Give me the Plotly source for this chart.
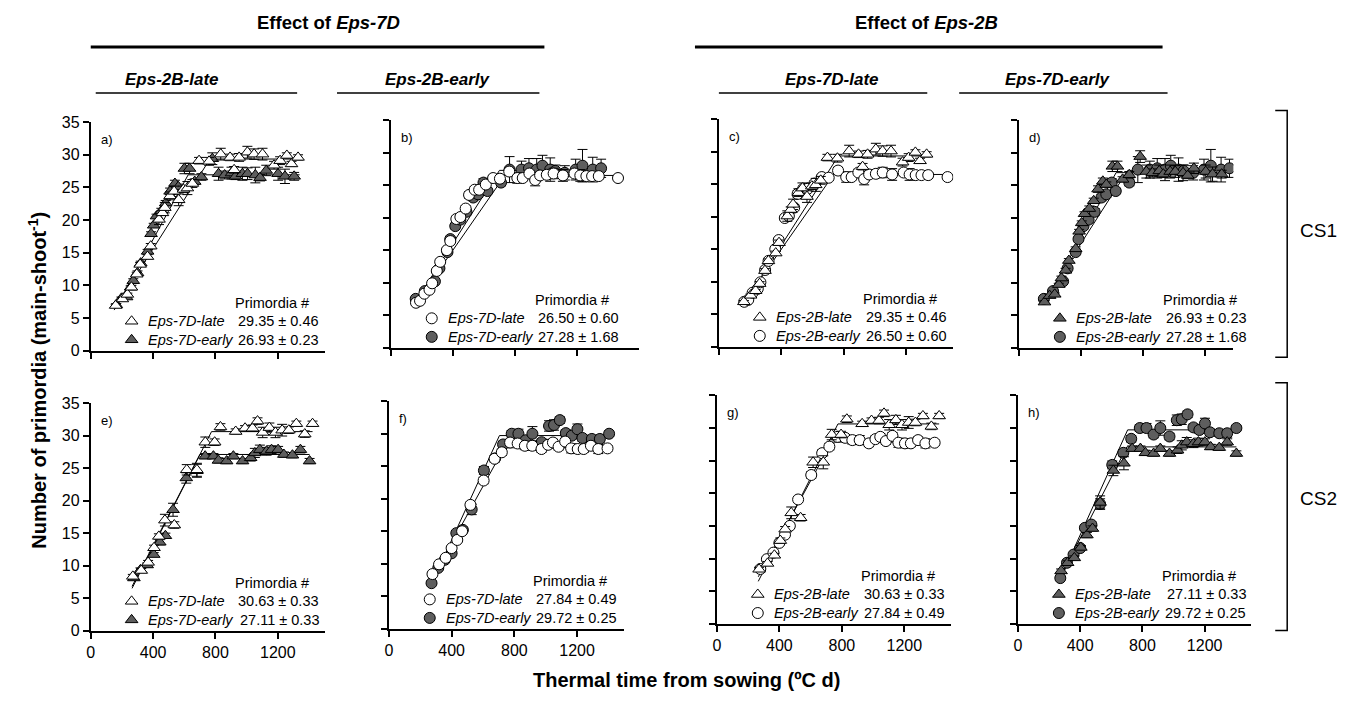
import plotly.graph_objects as go

W, H = 1355, 704
FONT = "Liberation Sans, Arial, sans-serif"
GRAY = "#5e5e5e"

# ---------------- DATA ----------------
# Genotypes: LL = Eps-2B-late/Eps-7D-late (open triangle), LE = Eps-2B-late/Eps-7D-early (filled triangle)
#            EL = Eps-2B-early/Eps-7D-late (open circle),  EE = Eps-2B-early/Eps-7D-early (filled circle)
# ---- CS1 ----
cs1_LL_x = [160, 203, 235, 261, 295, 317, 364, 385, 438, 460, 475, 509, 535, 564, 595, 620, 652, 695, 759, 834,
            894, 920, 952, 1005, 1048, 1102, 1176, 1215, 1258, 1288, 1330]
cs1_LL_y = [6.9, 7.9, 8.6, 9.7, 11.7, 13.2, 14.4, 16.0, 20.1, 21.1, 21.9, 23.7, 24.4, 23.1, 24.7, 24.9, 25.6, 29.1,
            29.0, 30.1, 29.6, 27.7, 29.6, 30.4, 30.1, 30.1, 28.4, 29.1, 29.9, 28.6, 29.6]
cs1_LL_e = [0.2, 0.2, 0.2, 0.3, 0.3, 0.3, 0.3, 0.4, 0.8, 0.4, 0.8, 0.6, 0.8, 0.9, 0.5, 1.0, 0.6, 0.5, 0.6, 0.9,
            0.5, 0.5, 0.6, 0.9, 0.8, 0.9, 0.6, 0.6, 0.4, 0.4, 0.4]

cs1_LE_x = [164, 197, 230, 256, 273, 300, 321, 365, 387, 404, 422, 453, 481, 509, 540, 562, 601, 634, 667, 710,
            780, 820, 859, 903, 929, 973, 1006, 1056, 1086, 1126, 1202, 1246, 1305]
cs1_LE_y = [7.0, 8.0, 8.2, 9.7, 10.7, 11.9, 13.4, 15.2, 17.9, 19.2, 20.6, 21.4, 22.6, 24.4, 25.6, 25.1, 27.9, 27.9,
            25.9, 26.6, 29.4, 27.1, 26.9, 27.2, 26.7, 27.1, 27.1, 26.9, 26.5, 27.6, 27.1, 26.7, 26.7]
cs1_LE_e = [0.2, 0.2, 0.2, 0.2, 0.3, 0.3, 0.3, 0.3, 0.3, 0.3, 0.3, 0.4, 0.4, 0.5, 0.5, 0.4, 0.8, 0.8, 0.4, 0.5,
            0.9, 1.0, 0.6, 0.9, 0.5, 1.0, 0.9, 1.2, 0.5, 0.8, 1.0, 1.1, 0.6]

cs1_EL_x = [162, 188, 216, 249, 266, 296, 318, 361, 383, 422, 448, 482, 504, 540, 569, 612, 659, 703, 763, 815,
            850, 893, 930, 962, 1005, 1049, 1109, 1183, 1221, 1260, 1297, 1340, 1464]
cs1_EL_y = [6.9, 7.2, 8.3, 8.9, 9.9, 11.8, 13.2, 15.0, 16.4, 19.8, 20.1, 21.4, 23.5, 24.3, 24.3, 25.1, 26.1, 26.0,
            27.1, 26.1, 26.1, 26.8, 25.8, 26.5, 26.6, 26.8, 26.5, 26.8, 26.5, 26.4, 26.4, 26.4, 26.1]
cs1_EL_e = [0.2, 0.2, 0.2, 0.2, 0.2, 0.3, 0.3, 0.3, 0.3, 0.4, 0.4, 0.4, 0.5, 0.4, 0.4, 0.4, 0.4, 0.4, 0.5, 0.8,
            0.4, 0.5, 0.9, 0.5, 0.6, 0.8, 0.9, 0.5, 0.9, 0.5, 0.4, 0.4, 0.3]

cs1_EE_x = [160, 219, 284, 313, 365, 383, 415, 448, 487, 531, 562, 597, 623, 710, 765, 842, 890, 940, 977, 1027,
            1060, 1121, 1191, 1235, 1301, 1355]
cs1_EE_y = [7.5, 8.7, 10.2, 12.2, 14.7, 16.7, 18.7, 19.7, 20.9, 23.1, 23.6, 25.4, 24.1, 25.4, 27.4, 27.4, 27.6,
            27.4, 28.0, 27.4, 27.2, 26.9, 27.4, 28.0, 27.4, 27.6]
cs1_EE_e = [0.2, 0.2, 0.3, 0.3, 0.3, 0.3, 0.4, 0.4, 0.5, 0.5, 0.5, 0.6, 0.4, 0.5, 2.0, 1.3, 1.5, 1.7, 1.6, 1.8,
            0.9, 1.1, 1.6, 2.5, 1.9, 1.4]

# ---- CS2 ----
cs2_LL_x = [270, 324, 368, 406, 437, 476, 536, 616, 681, 735, 795, 832, 930, 990, 1038, 1070, 1103, 1146, 1185,
            1228, 1271, 1319, 1373, 1423]
cs2_LL_y = [8.35, 9.25, 10.5, 12.75, 14.5, 17.0, 16.25, 24.75, 24.75, 29.0, 29.0, 31.35, 30.65, 31.15, 31.15,
            32.25, 30.5, 31.25, 30.5, 30.85, 30.85, 31.85, 30.25, 31.85]
cs2_LL_e = [0.3, 0.3, 0.3, 0.4, 0.4, 0.9, 0.5, 0.8, 1.0, 0.8, 0.5, 0.5, 0.4, 0.4, 0.5, 0.5, 0.8, 0.7, 0.8, 0.9,
            0.5, 0.4, 0.5, 0.4]

cs2_LE_x = [277, 319, 362, 404, 443, 479, 528, 613, 681, 734, 787, 819, 872, 915, 974, 1026, 1053, 1085, 1128,
            1160, 1202, 1239, 1294, 1345, 1404]
cs2_LE_y = [8.1, 9.35, 10.1, 11.7, 13.6, 14.6, 18.6, 23.5, 24.6, 26.85, 26.85, 26.2, 26.1, 26.85, 26.1, 26.6,
            27.35, 27.85, 27.6, 27.85, 27.85, 27.1, 27.0, 27.85, 26.1]
cs2_LE_e = [0.3, 0.3, 0.3, 0.3, 0.4, 0.4, 1.0, 0.8, 1.0, 0.4, 0.4, 0.4, 0.4, 0.4, 0.4, 0.5, 0.7, 0.7, 0.6, 0.6,
            0.5, 0.4, 0.4, 0.5, 0.4]

cs2_EL_x = [278, 320, 362, 400, 436, 467, 520, 604, 674, 720, 773, 821, 867, 914, 973, 1015, 1046, 1082, 1124,
            1162, 1204, 1242, 1288, 1335, 1394]
cs2_EL_y = [8.4, 9.9, 10.9, 12.4, 13.65, 15.0, 19.05, 22.8, 26.15, 27.15, 28.65, 28.5, 28.15, 28.15, 27.65, 28.3,
            28.65, 28.0, 28.8, 27.75, 27.65, 27.65, 28.15, 27.65, 27.75]
cs2_EL_e = [0.3, 0.3, 0.3, 0.3, 0.3, 0.4, 0.4, 0.5, 0.5, 0.5, 0.5, 0.5, 0.6, 0.7, 0.5, 0.5, 0.5, 0.5, 0.5, 0.7,
            0.7, 0.5, 0.5, 0.7, 0.4]

cs2_EE_x = [272, 315, 357, 400, 430, 472, 528, 606, 677, 728, 783, 826, 872, 915, 974, 1021, 1053, 1090, 1128,
            1166, 1202, 1234, 1294, 1345, 1404]
cs2_EE_y = [7.0, 9.35, 10.6, 11.6, 14.7, 15.2, 18.35, 24.35, 26.2, 28.35, 30.0, 30.0, 29.0, 30.0, 28.7, 31.2,
            31.35, 32.1, 30.1, 29.7, 30.7, 29.35, 29.2, 29.2, 30.0]
cs2_EE_e = [0.3, 0.3, 0.3, 0.3, 0.4, 0.4, 0.8, 0.6, 0.5, 0.5, 0.5, 0.7, 0.5, 1.1, 0.5, 0.8, 0.8, 0.5, 0.5, 0.5,
            0.8, 0.5, 0.5, 0.6, 0.4]

# Bilinear fits (start, break point, end) and final primordia number (mean, SE)
cs1_LL_fit_x, cs1_LL_fit_y = [150, 765, 1340], [6.2, 29.35, 29.35]
cs1_LE_fit_x, cs1_LE_fit_y = [165, 625, 1340], [6.7, 26.93, 26.93]
cs1_EL_fit_x, cs1_EL_fit_y = [155, 735, 1464], [6.6, 26.50, 26.50]
cs1_EE_fit_x, cs1_EE_fit_y = [155, 700, 1355], [6.9, 27.28, 27.28]
cs2_LL_fit_x, cs2_LL_fit_y = [265, 775, 1423], [6.5, 30.63, 30.63]
cs2_LE_fit_x, cs2_LE_fit_y = [265, 700, 1404], [6.8, 27.11, 27.11]
cs2_EL_fit_x, cs2_EL_fit_y = [265, 735, 1394], [7.2, 27.84, 27.84]
cs2_EE_fit_x, cs2_EE_fit_y = [265, 705, 1404], [6.5, 29.72, 29.72]

cs1_primordia = {"LL": (29.35, 0.46), "LE": (26.93, 0.23), "EL": (26.50, 0.60), "EE": (27.28, 1.68)}
cs2_primordia = {"LL": (30.63, 0.33), "LE": (27.11, 0.33), "EL": (27.84, 0.49), "EE": (29.72, 0.25)}

y_ticks = [0, 5, 10, 15, 20, 25, 30, 35]
x_ticks = [0, 400, 800, 1200]

panel_letters = ["a)", "b)", "c)", "d)", "e)", "f)", "g)", "h)"]
col_genotypes = [("LL", "LE"), ("EL", "EE"), ("LL", "EL"), ("LE", "EE")]
col_labels = [("Eps-7D-late", "Eps-7D-early"), ("Eps-7D-late", "Eps-7D-early"),
              ("Eps-2B-late", "Eps-2B-early"), ("Eps-2B-late", "Eps-2B-early")]
col_headers = ["Eps-2B-late", "Eps-2B-early", "Eps-7D-late", "Eps-7D-early"]
env_labels = ["CS1", "CS2"]

data = {
    "CS1": {"LL": (cs1_LL_x, cs1_LL_y, cs1_LL_e, cs1_LL_fit_x, cs1_LL_fit_y),
            "LE": (cs1_LE_x, cs1_LE_y, cs1_LE_e, cs1_LE_fit_x, cs1_LE_fit_y),
            "EL": (cs1_EL_x, cs1_EL_y, cs1_EL_e, cs1_EL_fit_x, cs1_EL_fit_y),
            "EE": (cs1_EE_x, cs1_EE_y, cs1_EE_e, cs1_EE_fit_x, cs1_EE_fit_y)},
    "CS2": {"LL": (cs2_LL_x, cs2_LL_y, cs2_LL_e, cs2_LL_fit_x, cs2_LL_fit_y),
            "LE": (cs2_LE_x, cs2_LE_y, cs2_LE_e, cs2_LE_fit_x, cs2_LE_fit_y),
            "EL": (cs2_EL_x, cs2_EL_y, cs2_EL_e, cs2_EL_fit_x, cs2_EL_fit_y),
            "EE": (cs2_EE_x, cs2_EE_y, cs2_EE_e, cs2_EE_fit_x, cs2_EE_fit_y)},
}
primordia = {"CS1": cs1_primordia, "CS2": cs2_primordia}

# ---------------- STYLE / LAYOUT ----------------
style = {
    "LL": dict(symbol="triangle-up", color="white", size=11),
    "LE": dict(symbol="triangle-up", color=GRAY, size=11),
    "EL": dict(symbol="circle", color="white", size=11),
    "EE": dict(symbol="circle", color=GRAY, size=11),
}

# panel geometry in pixels: x0, x1, x-range max, y-top(35), y-bottom(0)
geom = [
    (87, 321.5, 1500, 117, 351), (388, 637, 1600, 115, 348), (717, 952, 1500, 114, 347), (1018, 1233, 1380, 115, 348),
    (87, 321.5, 1500, 405, 638), (386, 622, 1500, 403, 636), (715, 950, 1500, 397, 631), (1017, 1251, 1500, 397, 631),
]


def px(x):
    return x / W


def py(y):
    return 1 - y / H


def text(x, y, s, size, xanchor="center", angle=0):
    return dict(x=px(x), y=py(y), xref="paper", yref="paper", showarrow=False, xanchor=xanchor,
                yanchor="middle", text=s, textangle=angle, font=dict(family=FONT, size=size, color="black"))


fig = go.Figure()
annotations = []
shapes = []
layout_axes = {}

for i, (x0, x1, xmax, yt, yb) in enumerate(geom):
    n = i + 1
    row, col = divmod(i, 4)
    env = env_labels[row]
    xa = "x" if n == 1 else f"x{n}"
    ya = "y" if n == 1 else f"y{n}"
    xkey = "xaxis" if n == 1 else f"xaxis{n}"
    ykey = "yaxis" if n == 1 else f"yaxis{n}"
    common = dict(showline=True, linecolor="black", linewidth=2, ticks="outside", ticklen=6, tickwidth=2,
                  tickcolor="black", showgrid=False, zeroline=False, fixedrange=True,
                  tickfont=dict(family=FONT, size=16, color="black"))
    layout_axes[xkey] = dict(domain=[px(x0), px(x1)], range=[0, xmax], anchor=ya, tickvals=x_ticks,
                             showticklabels=(row == 1), **common)
    layout_axes[ykey] = dict(domain=[py(yb), py(yt)], range=[0, 35], anchor=xa, tickvals=y_ticks,
                             showticklabels=(col == 0), **common)

    g1, g2 = col_genotypes[col]
    # fit lines
    for g in (g2, g1):
        fx, fy = data[env][g][3], data[env][g][4]
        fig.add_trace(go.Scatter(x=fx, y=fy, mode="lines", line=dict(color="black", width=1),
                                 xaxis=xa, yaxis=ya, showlegend=False, hoverinfo="skip"))
    # markers with error bars
    for g in (g2, g1):
        gx, gy, ge = data[env][g][:3]
        s = style[g]
        fig.add_trace(go.Scatter(
            x=gx, y=gy, mode="markers", xaxis=xa, yaxis=ya, showlegend=False,
            marker=dict(symbol=s["symbol"], size=s["size"], color=s["color"], line=dict(color="black", width=1)),
            error_y=dict(type="data", array=ge, visible=True, color="black", thickness=1, width=5)))

    # legend block inside panel
    xs = (x1 - x0) / xmax  # px per unit
    ys = (yb - yt) / 35.0
    for g, lab, off in ((g1, col_labels[col][0], 30), (g2, col_labels[col][1], 11)):
        s = style[g]
        fig.add_trace(go.Scatter(x=[41 / xs], y=[off / ys], mode="markers", xaxis=xa, yaxis=ya,
                                 showlegend=False, hoverinfo="skip",
                                 marker=dict(symbol=s["symbol"], size=s["size"], color=s["color"],
                                             line=dict(color="black", width=1))))
        m, se = primordia[env][g]
        annotations.append(text(x0 + 55, yb - off, f"<i>{lab}</i>", 14.5, "left"))
        annotations.append(text(x0 + 231, yb - off, f"{m:.2f} ± {se:.2f}", 14.5, "right"))
    annotations.append(text(x0 + 221, yb - 49, "Primordia #", 14.5, "right"))
    annotations.append(text(x0 + 8, yt + 18, panel_letters[i], 13, "left"))

# headers
annotations.append(text(325, 15, "<b>Effect of <i>Eps-7D</i></b>", 18.5))
annotations.append(text(925, 15, "<b>Effect of <i>Eps-2B</i></b>", 18.5))
for l0, l1 in ((87, 542), (693, 1162)):
    shapes.append(dict(type="line", xref="paper", yref="paper", x0=px(l0), x1=px(l1), y0=py(40), y1=py(40),
                       line=dict(color="black", width=3)))

sub_pos = [(168, 92, 294), (435, 334, 537), (830, 717, 926), (1057, 958, 1167)]
for lab, (cx, l0, l1) in zip(col_headers, sub_pos):
    annotations.append(text(cx, 73, f"<b><i>{lab}</i></b>", 17))
    shapes.append(dict(type="line", xref="paper", yref="paper", x0=px(l0), x1=px(l1), y0=py(87), y1=py(87),
                       line=dict(color="black", width=1.5)))

# environment brackets
for lab, (ytop, ybot, ylab) in zip(env_labels, [(105, 358, 228), (384, 638, 503)]):
    shapes.append(dict(type="path", xref="paper", yref="paper",
                       path=f"M {px(1275)},{py(ytop)} L {px(1287)},{py(ytop)} L {px(1287)},{py(ybot)} L {px(1275)},{py(ybot)}",
                       line=dict(color="black", width=1.5)))
    annotations.append(text(1318, ylab, lab, 19))

# axis titles
annotations.append(text(34, 381, "<b>Number of primordia (main-shoot<sup>-1</sup>)</b>", 20, angle=-90))
annotations.append(text(685, 689, "<b>Thermal time from sowing (ºC d)</b>", 20))

fig.update_layout(width=W, height=H, autosize=False, margin=dict(l=0, r=0, t=0, b=0),
                  paper_bgcolor="white", plot_bgcolor="white", showlegend=False,
                  annotations=annotations, shapes=shapes, **layout_axes)

fig.write_html("out.html", config={"displayModeBar": False},
               post_script="document.body.style.margin='0';document.body.style.overflow='hidden';")
